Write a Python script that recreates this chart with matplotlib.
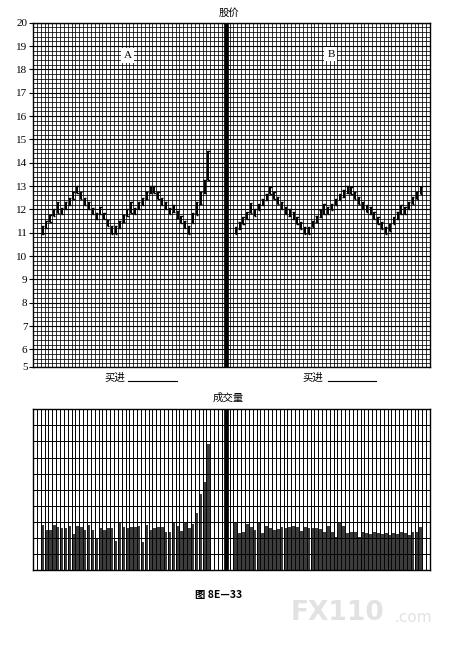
import numpy as np
import matplotlib
matplotlib.use("Agg")
import matplotlib.pyplot as plt
from matplotlib.lines import Line2D

plt.rcParams['font.family'] = ['Liberation Serif', 'Noto Sans CJK SC', 'DejaVu Sans']

# ---------------- data ----------------
a_low = [10.95, 11.2, 11.45, 11.7, 11.85, 11.8, 12.0, 12.2, 12.45, 12.7,
         12.45, 12.2, 12.0, 11.8, 11.6, 11.8, 11.6, 11.3, 10.95, 10.95,
         11.2, 11.45, 11.7, 11.85, 11.8, 12.0, 12.2, 12.45, 12.7, 12.7,
         12.45, 12.2, 12.0, 11.8, 11.9, 11.65, 11.4, 11.2, 10.95, 11.4,
         11.75, 12.25, 12.7, 13.26]
a_high = [11.3, 11.5, 11.75, 12.0, 12.3, 12.05, 12.3, 12.5, 12.75, 13.0,
          12.75, 12.5, 12.3, 12.05, 11.85, 12.1, 11.85, 11.55, 11.3, 11.3,
          11.5, 11.75, 12.0, 12.3, 12.05, 12.3, 12.5, 12.75, 13.0, 13.0,
          12.75, 12.5, 12.3, 12.05, 12.2, 11.95, 11.7, 11.5, 11.3, 11.83,
          12.3, 12.75, 13.26, 14.5]
b_low = [10.94, 11.16, 11.38, 11.59, 11.84, 11.74, 11.96, 12.17, 12.39, 12.68,
         12.46, 12.25, 12.03, 11.81, 11.74, 11.59, 11.38, 11.16, 10.94, 10.94,
         11.23, 11.45, 11.67, 11.81, 11.81, 11.96, 12.17, 12.39, 12.54, 12.71,
         12.68, 12.46, 12.25, 12.03, 11.88, 11.81, 11.59, 11.38, 11.16, 10.94,
         11.09, 11.38, 11.59, 11.81, 11.81, 12.03, 12.25, 12.46, 12.68]
b_high = [11.23, 11.45, 11.67, 11.88, 12.27, 12.03, 12.25, 12.46, 12.68, 12.97,
          12.75, 12.54, 12.32, 12.10, 12.03, 11.88, 11.67, 11.45, 11.23, 11.23,
          11.52, 11.74, 11.96, 12.25, 12.10, 12.25, 12.46, 12.68, 12.83, 13.0,
          12.97, 12.75, 12.54, 12.32, 12.17, 12.10, 11.88, 11.67, 11.45, 11.23,
          11.38, 11.67, 11.88, 12.17, 12.10, 12.32, 12.54, 12.75, 12.97]
a_vol = [2.80, 2.48, 2.52, 2.80, 2.69, 2.59, 2.59, 2.75, 2.24, 2.75,
         2.69, 2.48, 2.80, 2.52, 1.97, 2.59, 2.48, 2.63, 2.63, 1.80,
         2.90, 2.69, 2.59, 2.65, 2.69, 2.75, 1.76, 2.80, 2.48, 2.59,
         2.69, 2.65, 2.38, 2.38, 2.96, 2.75, 2.44, 2.90, 2.59, 2.84,
         3.52, 4.76, 5.49, 7.87]
b_vol = [2.90, 2.28, 2.38, 2.86, 2.69, 2.48, 2.90, 2.28, 2.75, 2.59,
         2.52, 2.55, 2.69, 2.63, 2.69, 2.75, 2.69, 2.42, 2.69, 2.59,
         2.59, 2.59, 2.55, 2.34, 2.75, 2.38, 2.07, 2.90, 2.75, 2.28,
         2.38, 2.38, 2.07, 2.38, 2.32, 2.24, 2.38, 2.28, 2.24, 2.32,
         2.17, 2.28, 2.21, 2.38, 2.28, 2.17, 2.38, 2.38, 2.69]
price_ticks = list(range(6, 21))
price_labels = ['5'] + [str(v) for v in price_ticks]

# ---------------- layout ----------------
W, H = 461, 647
fig = plt.figure(figsize=(W / 100, H / 100), dpi=100)

def fx(px):
    return px / W

def fy(py):
    return 1 - py / H

NCOL = 103
DIV = 50.1
A0, B0 = 2.5, 52.6

ax = fig.add_axes([fx(33), fy(367), fx(430) - fx(33), fy(22.7) - fy(367)])
axv = fig.add_axes([fx(33), fy(570), fx(430) - fx(33), fy(409.3) - fy(570)])

# ---- price panel ----
ylo = 5.25
ax.set_xlim(0, NCOL)
ax.set_ylim(ylo, 20)
ax.set_xticks(np.arange(0, NCOL + 1, 1), minor=True)
ax.set_xticks([])
ax.set_yticks([ylo] + price_ticks)
ax.set_yticklabels(price_labels, fontsize=8)
ax.set_yticks(np.arange(5.4, 20.01, 0.2), minor=True)
ax.tick_params(axis='y', which='major', direction='out', length=3, width=0.8, pad=1)
ax.tick_params(axis='y', which='minor', length=0)
ax.tick_params(axis='x', which='both', length=0)
ax.grid(which='minor', color='black', lw=0.55)
ax.grid(which='major', axis='y', color='black', lw=0.8)
for s in ax.spines.values():
    s.set_linewidth(1.0)
ax.axvline(DIV, color='black', lw=3.4, zorder=5)

def draw_bars(axis, x0, lows, highs):
    x = x0 + np.arange(len(lows))
    lows = np.asarray(lows)
    highs = np.asarray(highs)
    axis.vlines(x, lows, highs, color='black', lw=1.4, zorder=4)
    axis.hlines(lows, x - 0.32, x + 0.32, color='black', lw=1.0, zorder=4)
    axis.hlines(highs, x - 0.32, x + 0.32, color='black', lw=1.0, zorder=4)

draw_bars(ax, A0, a_low, a_high)
draw_bars(ax, B0, b_low, b_high)

box = dict(boxstyle='square,pad=0.25', fc='white', ec='none')
ax.text(24.5, 18.6, 'A', fontsize=8, ha='center', va='center', bbox=box, zorder=6)
ax.text(77.3, 18.65, 'B', fontsize=8, ha='center', va='center', bbox=box, zorder=6)

# ---- volume panel ----
axv.set_xlim(0, NCOL)
axv.set_ylim(0, 10)
axv.set_xticks(np.arange(0, NCOL + 1, 1))
axv.set_yticks(np.arange(0, 11, 1))
axv.tick_params(which='both', length=0, labelleft=False, labelbottom=False)
axv.grid(True, color='black', lw=0.7, zorder=3)
axv.set_axisbelow(False)
for s in axv.spines.values():
    s.set_linewidth(1.0)
axv.bar(A0 + np.arange(len(a_vol)), a_vol, width=0.75, color='#3c3c3c', zorder=2)
axv.bar(B0 + np.arange(len(b_vol)), b_vol, width=0.75, color='#3c3c3c', zorder=2)
axv.axvline(DIV, color='black', lw=3.4, zorder=5)

# ---- texts ----
cjk = ['Noto Sans CJK SC', 'DejaVu Sans']
fig.text(fx(229), fy(13), '股价', fontsize=7.5, family=cjk, ha='center', va='center')
fig.text(fx(228), fy(398), '成交量', fontsize=7.5, family=cjk, ha='center', va='center')
fig.text(fx(115), fy(378), '买进', fontsize=7.5, family=cjk, ha='center', va='center')
fig.text(fx(313), fy(378), '买进', fontsize=7.5, family=cjk, ha='center', va='center')
fig.add_artist(Line2D([fx(128), fx(177)], [fy(381), fy(381)], color='black', lw=0.8))
fig.add_artist(Line2D([fx(328), fx(376)], [fy(381), fy(381)], color='black', lw=0.8))
fig.text(fx(219), fy(595), '图 8E—33', fontsize=7.5, family=cjk,
         fontweight='bold', ha='center', va='center')
fig.text(fx(291), fy(613), 'FX110', fontsize=19, family=['DejaVu Sans'], fontweight='bold',
         color='#e2e2e2', ha='left', va='center')
fig.text(fx(394), fy(617), '.com', fontsize=11, family=['DejaVu Sans'],
         color='#e2e2e2', ha='left', va='center')

fig.savefig('out.png', dpi=100)
